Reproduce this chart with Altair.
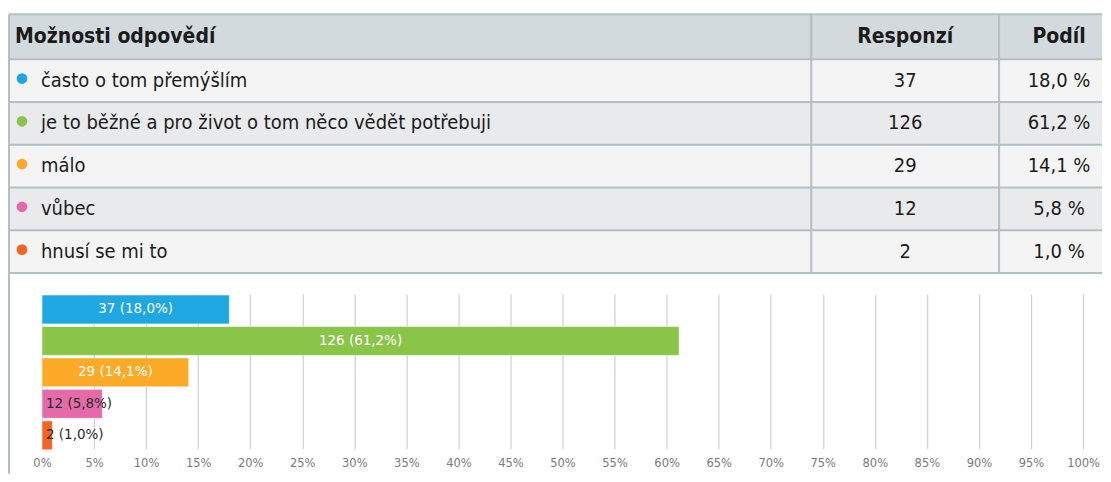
import altair as alt
import pandas as pd

# ---- data ----
categories = [
    "často o tom přemýšlím",
    "je to běžné a pro život o tom něco vědět potřebuji",
    "málo",
    "vůbec",
    "hnusí se mi to",
]
counts = [37, 126, 29, 12, 2]
shares = [18.0, 61.2, 14.1, 5.8, 1.0]
colors = ["#1ea7e1", "#8ac449", "#fbaa27", "#e46aa9", "#f26522"]
header_labels = ["Možnosti odpovědí", "Responzí", "Podíl"]
tick_values = list(range(0, 101, 5))

# ---- derived table ----
def cz(v):
    return f"{v:.1f}".replace(".", ",")

df = pd.DataFrame({
    "category": categories,
    "count": counts,
    "share": shares,
})
df["shade"] = ["a" if i % 2 == 0 else "b" for i in range(len(df))]
df["count_label"] = df["count"].astype(str)
df["share_label"] = [cz(v) + " %" for v in shares]
df["bar_label"] = [f"{c} ({cz(v)}%)" for c, v in zip(counts, shares)]
df["mid"] = df["share"] / 2

one = pd.DataFrame({"k": [0]})

W = 1094
TH = 259
HEAD = 45
BORDER = "#b3bfc5"
FONT = "DejaVu Sans Condensed, sans-serif"
TXT = "#1b1b1b"

row_scale = alt.Scale(range=[HEAD, TH], paddingInner=0, paddingOuter=0)
row_y = alt.Y("category:N", sort=categories, axis=None, scale=row_scale)

header_bg = alt.Chart(one).mark_rect(fill="#d3dadd").encode(
    x=alt.value(0), x2=alt.value(W), y=alt.value(0), y2=alt.value(HEAD))

rows_bg = alt.Chart(df).mark_rect().encode(
    x=alt.value(0), x2=alt.value(W), y=row_y,
    fill=alt.Fill("shade:N", scale=alt.Scale(domain=["a", "b"], range=["#f4f4f4", "#e8eaeb"]), legend=None))

row_lines = alt.Chart(df).mark_rule(color=BORDER, strokeWidth=2).encode(
    x=alt.value(0), x2=alt.value(W),
    y=alt.Y("category:N", sort=categories, axis=None, scale=row_scale, bandPosition=0))
top_line = alt.Chart(one).mark_rule(color=BORDER, strokeWidth=2).encode(
    x=alt.value(0), x2=alt.value(W), y=alt.value(0))
bottom_line = alt.Chart(one).mark_rule(color=BORDER, strokeWidth=2).encode(
    x=alt.value(0), x2=alt.value(W), y=alt.value(TH))

sep0 = alt.Chart(one).mark_rule(color=BORDER, strokeWidth=2).encode(
    x=alt.value(0), y=alt.value(0), y2=alt.value(TH))
sep1 = alt.Chart(one).mark_rule(color=BORDER, strokeWidth=2).encode(
    x=alt.value(803), y=alt.value(0), y2=alt.value(TH))
sep2 = alt.Chart(one).mark_rule(color=BORDER, strokeWidth=2).encode(
    x=alt.value(991), y=alt.value(0), y2=alt.value(TH))

h1 = alt.Chart(one).mark_text(text=header_labels[0], align="left", baseline="middle",
                              font=FONT, fontSize=21, fontWeight="bold", color=TXT).encode(
    x=alt.value(6), y=alt.value(HEAD / 2))
h2 = alt.Chart(one).mark_text(text=header_labels[1], align="center", baseline="middle",
                              font=FONT, fontSize=21, fontWeight="bold", color=TXT).encode(
    x=alt.value(897), y=alt.value(HEAD / 2))
h3 = alt.Chart(one).mark_text(text=header_labels[2], align="center", baseline="middle",
                              font=FONT, fontSize=21, fontWeight="bold", color=TXT).encode(
    x=alt.value(1051), y=alt.value(HEAD / 2))

bullets = alt.Chart(df).mark_circle(size=115, opacity=1, yOffset=-2).encode(
    x=alt.value(13), y=row_y,
    color=alt.Color("category:N", scale=alt.Scale(domain=categories, range=colors), legend=None))

cat_text = alt.Chart(df).mark_text(align="left", baseline="middle", font=FONT, fontSize=20, color=TXT).encode(
    x=alt.value(32), y=row_y, text="category:N")
cnt_text = alt.Chart(df).mark_text(align="center", baseline="middle", font=FONT, fontSize=20, color=TXT).encode(
    x=alt.value(897), y=row_y, text="count_label:N")
shr_text = alt.Chart(df).mark_text(align="center", baseline="middle", font=FONT, fontSize=20, color=TXT).encode(
    x=alt.value(1051), y=row_y, text="share_label:N")

table = alt.layer(header_bg, rows_bg, row_lines, top_line, bottom_line, sep0, sep1, sep2,
                  h1, h2, h3, bullets, cat_text, cnt_text, shr_text).properties(width=W, height=TH)

# ---- bar chart ----
BH = 162
xs = alt.Scale(domain=[0, 100], range=[33, 1075])
ys = alt.Scale(range=[4, 159], paddingInner=0.079, paddingOuter=0)
x_axis = alt.Axis(values=tick_values, labelExpr="datum.value + '%'", grid=True, gridColor="#d0d0d0",
                  gridWidth=1.2, domain=False, ticks=False, labelColor="#7a7a7a", labelFont="DejaVu Sans",
                  labelFontSize=11.5, labelPadding=5, labelFlush=False, labelOverlap=False, title=None)

base = alt.Chart(df)
bars = base.mark_bar(stroke="#ffffff", strokeWidth=1, strokeOpacity=0.6).encode(
    x=alt.X("share:Q", scale=xs, axis=x_axis),
    y=alt.Y("category:N", sort=categories, scale=ys, axis=None),
    color=alt.Color("category:N", scale=alt.Scale(domain=categories, range=colors), legend=None))

inner = base.transform_filter("datum.share >= 10").mark_text(
    align="center", baseline="middle", font="DejaVu Sans", fontSize=13.5, color="white").encode(
    x=alt.X("mid:Q", scale=xs), y=alt.Y("category:N", sort=categories, scale=ys), text="bar_label:N")

outer = base.transform_filter("datum.share < 10").mark_text(
    align="left", baseline="middle", font="DejaVu Sans", fontSize=13.5, color="#2a2a2a", dx=4).encode(
    x=alt.datum(0, scale=xs), y=alt.Y("category:N", sort=categories, scale=ys), text="bar_label:N")

left_border = alt.Chart(one).mark_rule(color=BORDER, strokeWidth=2).encode(
    x=alt.value(0), y=alt.value(-18), y2=alt.value(183))

barchart = alt.layer(bars, inner, outer, left_border).properties(width=W, height=BH)

chart = alt.vconcat(table, barchart, spacing=18, bounds="flush").properties(
    padding={"left": 0, "top": 5, "right": 0, "bottom": 0}
).configure_view(stroke=None)

chart.save("out.html", embed_options={"renderer": "svg", "actions": False})
